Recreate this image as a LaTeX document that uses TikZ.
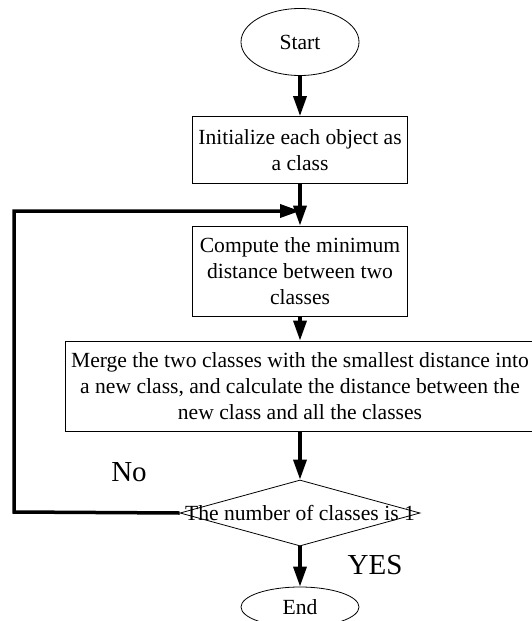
\documentclass[tikz,border=0pt]{standalone}
\usepackage{fontspec}
\setmainfont{Liberation Serif}
\usepackage{tikz}
\usetikzlibrary{shapes.geometric,arrows.meta}

\begin{document}
\begin{tikzpicture}
[x=1pt,y=-1pt,
    nodeEllipseDecorate/.style={shape=ellipse,draw=black,line width=0.8pt,inner sep=0pt,minimum width=118pt,font=\fontsize{21.6}{26}\selectfont},%
    nodeBoxDecorate/.style={shape=rectangle,draw=black,line width=0.8pt,inner sep=0pt,align=center,font=\fontsize{21.6}{26}\selectfont},%
    nodeDiamondDecorate/.style={shape=diamond,draw=black,line width=0.8pt,inner sep=0pt,minimum width=240pt,minimum height=66pt,aspect=3.6},%
    lineDecorate/.style={black,-{Triangle[length=20pt,width=13pt]},line width=3.5pt},%
    labelDecorate/.style={font=\fontsize{29}{34}\selectfont}]
    \useasboundingbox (0,0) rectangle (532,621);
    %% terminal nodes
    \node (start) at (300,42) [nodeEllipseDecorate,minimum height=67pt] {Start};
    \node (end) at (300,607) [nodeEllipseDecorate,minimum height=40pt] {End};
    %% process nodes
    \foreach \nodename/\y/\w/\h/\txt in {init/150/215/67/{Initialize each object as\\a class}, compute/271/215/90/{Compute the minimum\\distance between two\\classes}, merge/386/470/90/{Merge the two classes with the smallest distance into\\a new class, and calculate the distance between the\\new class and all the classes}}
    {
        \node (\nodename) at (300,\y) [nodeBoxDecorate,minimum width=\w pt,minimum height=\h pt] {\txt};
    }
    %% decision
    \node (check) at (300,513) [nodeDiamondDecorate,label={[font=\fontsize{21.6}{26}\selectfont]center:The number of classes is 1}] {};
    \coordinate (join) at (300,211);
    \coordinate (corner) at (14,512);
    %% edges or lines
    \path\foreach \startnode/\endnode in {start/init, init/compute, compute/merge, merge/check, check/end}
    {
        (\startnode) edge[lineDecorate] (\endnode)
    };
    \draw[lineDecorate] (check.west) -- (corner) |- (join);
    %% labels
    \node (no) at (129,472) [labelDecorate] {No};
    \node (yes) at (375,565) [labelDecorate] {YES};
\end{tikzpicture}
\end{document}
